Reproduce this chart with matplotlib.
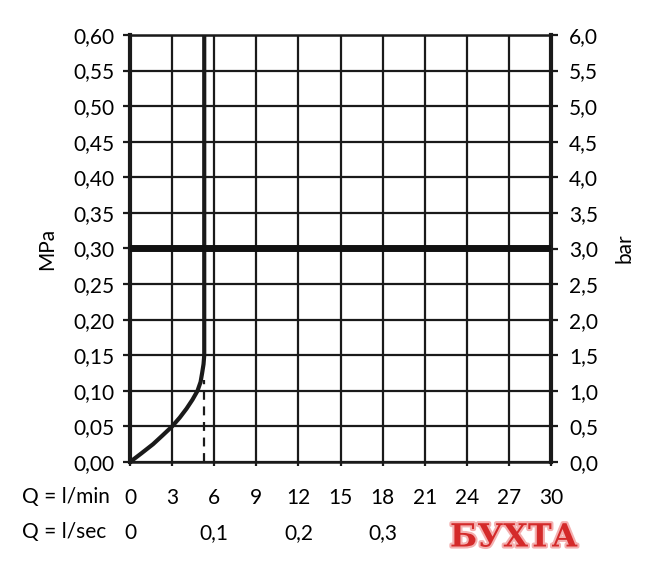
import matplotlib
matplotlib.use("Agg")
import matplotlib.pyplot as plt
import matplotlib.patheffects as pe

# data
flow_lmin = [0, 0.8, 1.64, 2.3, 3.0, 3.55, 4.03, 4.45, 4.81, 5.03, 5.14, 5.24, 5.29, 5.29]
pressure_mpa = [0, 0.012, 0.025, 0.037, 0.05, 0.0625, 0.075, 0.0875, 0.10, 0.1125, 0.125, 0.1375, 0.15, 0.60]
dashed_x = [5.29, 5.29]
dashed_y = [0.0, 0.115]
ref_pressure = 0.30
x_ticks = [0, 3, 6, 9, 12, 15, 18, 21, 24, 27, 30]
y_ticks = [0.00, 0.05, 0.10, 0.15, 0.20, 0.25, 0.30, 0.35, 0.40, 0.45, 0.50, 0.55, 0.60]
sec_ticks = [0, 0.1, 0.2, 0.3]

plt.rcParams['font.family'] = ['Lato', 'DejaVu Sans']
fs = 15
fig = plt.figure(figsize=(6.56, 5.71), dpi=100)
ax = fig.add_axes([130/656, (571-462)/571, 421/656, 427/571])
ax.set_xlim(0, 30)
ax.set_ylim(0, 0.60)

def comma(v, d):
    return f"{v:.{d}f}".replace('.', ',')

ax.set_xticks(x_ticks)
ax.set_xticklabels([str(v) for v in x_ticks], fontsize=fs)
ax.set_yticks(y_ticks)
ax.set_yticklabels([comma(v, 2) for v in y_ticks], fontsize=fs)
ax.grid(True, color='#1a1a1a', linewidth=1.6)
ax.set_axisbelow(True)
ax.tick_params(axis='y', length=5, width=1.6, color='#1a1a1a', pad=6)
ax.tick_params(axis='x', length=3, width=1.6, color='#1a1a1a', pad=16)
for s in ['left', 'right']:
    ax.spines[s].set_linewidth(3)
    ax.spines[s].set_color('#1a1a1a')
for s in ['top', 'bottom']:
    ax.spines[s].set_linewidth(1.8)
    ax.spines[s].set_color('#1a1a1a')
ax.set_ylabel('MPa', fontsize=fs, labelpad=12)

# right axis in bar
ax2 = ax.twinx()
ax2.set_ylim(0, 6.0)
bar_ticks = [v * 10 for v in y_ticks]
ax2.set_yticks(bar_ticks)
ax2.set_yticklabels([comma(v, 1) for v in bar_ticks], fontsize=fs)
ax2.tick_params(axis='y', length=5, width=1.6, color='#1a1a1a', pad=8)
for s in ax2.spines.values():
    s.set_visible(False)
ax2.set_ylabel('bar', fontsize=fs, labelpad=12)

ax.plot(flow_lmin, pressure_mpa, color='#1a1a1a', linewidth=3, solid_capstyle='butt',
        solid_joinstyle='round', zorder=5)
ax.plot(dashed_x, dashed_y, color='#1a1a1a', linewidth=1.6, linestyle=(0, (4, 3)), zorder=5)
ax.axhline(ref_pressure, color='#111111', linewidth=5, zorder=6)

# secondary x axis in l/sec
secax = ax.secondary_xaxis(-0.143, functions=(lambda x: x / 60, lambda x: x * 60))
secax.set_xticks(sec_ticks)
secax.set_xticklabels(['0'] + [comma(v, 1) for v in sec_ticks[1:]], fontsize=fs)
secax.tick_params(length=0, pad=0)
secax.spines['bottom'].set_visible(False)

fig.text(22/656, 1 - 497/571, 'Q = l/min', fontsize=fs, va='center', ha='left')
fig.text(22/656, 1 - 532/571, 'Q = l/sec', fontsize=fs, va='center', ha='left')

fig.text(514/656, 1 - 538/571, 'БУХТА', fontsize=23, fontweight='bold', color='#d42a2a',
         family=['DejaVu Serif'], ha='center', va='center',
         path_effects=[pe.withStroke(linewidth=3, foreground='#f4b0b0')])

fig.savefig('out.png', dpi=100)
